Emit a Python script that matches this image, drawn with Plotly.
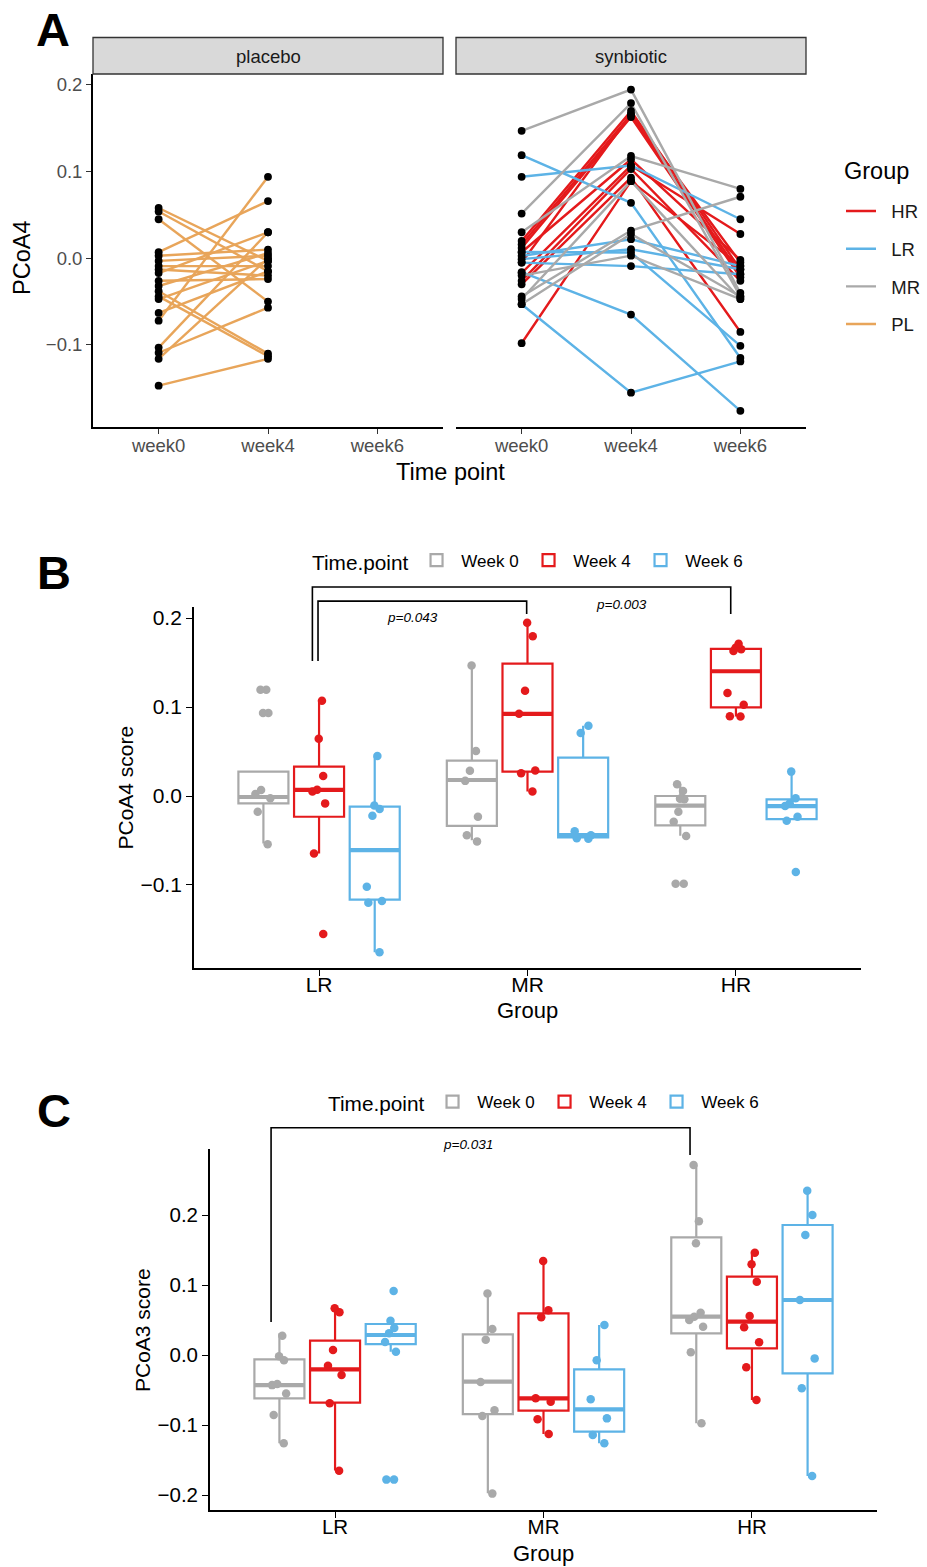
import plotly.graph_objects as go

W, H = 927, 1567
FONT = "Liberation Sans, Arial, Helvetica, sans-serif"

# ---------------- Panel A data (PCoA4 per subject) ----------------
WEEKS = ["week0", "week4", "week6"]
PL_W0 = [0.058, 0.054, 0.045, 0.007, 0.003, -0.003, -0.009, -0.013, -0.017, -0.026,
         -0.032, -0.038, -0.044, -0.047, -0.063, -0.072, -0.103, -0.109, -0.116, -0.147]
PL_W4 = [-0.003, -0.015, -0.050, 0.066, 0.010, 0.003, -0.009, -0.020, 0.030, -0.024,
         0.006, -0.110, -0.113, -0.003, -0.015, 0.094, 0.030, -0.057, 0.000, -0.116]

SYN_HR_W0 = [0.020, 0.016, 0.012, -0.005, -0.017, -0.026, -0.030, -0.098, 0.007]
SYN_HR_W4 = [0.170, 0.166, 0.163, 0.166, 0.107, 0.103, 0.093, 0.089, 0.114]
SYN_HR_W6 = [-0.013, -0.018, -0.022, -0.005, 0.028, -0.026, -0.085, -0.009, -0.002]

SYN_LR_W0 = [0.119, 0.094, 0.0027, -0.001, -0.005, -0.016, -0.053, 0.0073]
SYN_LR_W4 = [0.064, 0.107, 0.022, 0.0104, -0.009, -0.065, -0.155, 0.0066]
SYN_LR_W6 = [-0.115, 0.045, -0.009, -0.0127, -0.0185, -0.176, -0.119, -0.101]

SYN_MR_W0 = [0.147, 0.0516, 0.030, -0.044, -0.047, -0.053, -0.020]
SYN_MR_W4 = [0.1946, 0.179, 0.118, 0.032, 0.089, 0.028, 0.003]
SYN_MR_W6 = [-0.040, -0.044, 0.080, 0.071, -0.047, -0.044, -0.047]

# ---------------- Panels B / C data ----------------
GROUPS = ["LR", "MR", "HR"]
TIMEPOINTS = ["Week 0", "Week 4", "Week 6"]
# box stats: [lower whisker, q1, median, q3, upper whisker]
B_LR_W0 = [0.1195, 0.1195, 0.0932, 0.0932, 0.0068, 0.0023, -0.0026, -0.0177, -0.0541]
B_LR_W0_BOX = [-0.0533, -0.0083, -0.0011, 0.0274, 0.0274]
B_LR_W4 = [0.107, 0.0643, 0.0225, 0.007, 0.005, -0.0083, -0.0646, -0.155]
B_LR_W4_BOX = [-0.0646, -0.0233, 0.0068, 0.033, 0.107]
B_LR_W6 = [0.045, -0.0107, -0.0145, -0.0222, -0.102, -0.118, -0.12, -0.1755]
B_LR_W6_BOX = [-0.1755, -0.1165, -0.0609, -0.012, 0.045]
B_MR_W0 = [0.1466, 0.0506, 0.0284, 0.017, -0.0233, -0.044, -0.051]
B_MR_W0_BOX = [-0.0496, -0.0335, 0.018, 0.0398, 0.1466]
B_MR_W4 = [0.1947, 0.1796, 0.1183, 0.0924, 0.0286, 0.0256, 0.005]
B_MR_W4_BOX = [0.005, 0.0274, 0.0924, 0.1488, 0.1947]
B_MR_W6 = [0.079, 0.0707, -0.0395, -0.044, -0.0474, -0.048]
B_MR_W6_BOX = [-0.0466, -0.0466, -0.044, 0.0432, 0.079]
B_HR_W0 = [0.0133, 0.0056, -0.003, -0.0037, -0.0177, -0.029, -0.045, -0.0985, -0.0985]
B_HR_W0_BOX = [-0.0448, -0.033, -0.0109, 0.0, 0.0133]
B_HR_W4 = [0.171, 0.1665, 0.165, 0.163, 0.1157, 0.1026, 0.0897, 0.0893]
B_HR_W4_BOX = [0.0894, 0.0996, 0.1402, 0.1654, 0.1654]
B_HR_W6 = [0.0274, -0.0026, -0.0083, -0.0113, -0.0233, -0.0278, -0.0853]
B_HR_W6_BOX = [-0.026, -0.026, -0.0113, -0.0038, 0.0274]

C_LR_W0 = [0.0276, -0.0019, -0.0076, -0.0414, -0.043, -0.055, -0.0857, -0.126]
C_LR_W0_BOX = [-0.1262, -0.0619, -0.0429, -0.0062, 0.031]
C_LR_W4 = [0.0669, 0.061, 0.0071, -0.0152, -0.0286, -0.069, -0.1652]
C_LR_W4_BOX = [-0.165, -0.068, -0.0205, 0.0205, 0.0619]
C_LR_W6 = [0.0914, 0.049, 0.0386, 0.031, 0.0186, 0.0048, -0.178, -0.178]
C_LR_W6_BOX = [0.0048, 0.0157, 0.0286, 0.0443, 0.0443]
C_MR_W0 = [0.088, 0.0371, 0.0219, -0.0386, -0.079, -0.087, -0.198]
C_MR_W0_BOX = [-0.1976, -0.0843, -0.038, 0.0295, 0.0881]
C_MR_W4 = [0.1343, 0.064, 0.0538, -0.0619, -0.0667, -0.0919, -0.1129]
C_MR_W4_BOX = [-0.1129, -0.0795, -0.0619, 0.0595, 0.1343]
C_MR_W6 = [0.0429, -0.0076, -0.0633, -0.0905, -0.1143, -0.1262]
C_MR_W6_BOX = [-0.1262, -0.1095, -0.0776, -0.0205, 0.0429]
C_HR_W0 = [0.2714, 0.191, 0.1595, 0.0605, 0.0548, 0.05, 0.0405, 0.0038, -0.0976]
C_HR_W0_BOX = [-0.0976, 0.031, 0.0548, 0.1681, 0.2714]
C_HR_W4 = [0.146, 0.1295, 0.1048, 0.0557, 0.0395, 0.0181, -0.0176, -0.0643]
C_HR_W4_BOX = [-0.0643, 0.0095, 0.0476, 0.1119, 0.1476]
C_HR_W6 = [0.2348, 0.2, 0.1714, 0.0786, -0.0048, -0.0476, -0.1729]
C_HR_W6_BOX = [-0.1729, -0.0262, 0.0786, 0.1857, 0.2348]

# significance brackets (data coords) and labels
B_BRACKETS = [
    ([(-0.032, 0.1517), (-0.032, 0.2348), (1.975, 0.2348), (1.975, 0.2045)], "p=0.003", (1.451, 0.2157)),
    ([(-0.005, 0.1517), (-0.005, 0.219), (0.996, 0.219), (0.996, 0.2045)], "p=0.043", (0.45, 0.201)),
]
C_BRACKETS = [
    ([(-0.307, 0.047), (-0.307, 0.3247), (1.703, 0.3247), (1.703, 0.2857)], "p=0.031", (0.638, 0.3014)),
]

# ---------------- styling ----------------
GROUP_COLORS = {"HR": "#E41A1C", "LR": "#5DB3E6", "MR": "#A9A9A9", "PL": "#E8A55A"}
TP_COLORS = {"Week 0": "#A9A9A9", "Week 4": "#E41A1C", "Week 6": "#5DB3E6"}
DODGE = {"Week 0": -0.267, "Week 4": 0.0, "Week 6": 0.267}
BOXW = 0.24

# panel geometry in pixels
P_A1 = dict(x=(93, 443), y=(74, 427.3), xr=(-0.6, 2.6), yr=(-0.195, 0.2126))
P_A2 = dict(x=(456, 806), y=(74, 427.3), xr=(-0.6, 2.6), yr=(-0.195, 0.2126))
P_B = dict(x=(194, 861), y=(607, 968), xr=(-0.6, 2.6), yr=(-0.1933, 0.2124))
P_C = dict(x=(210, 877), y=(1149, 1510), xr=(-0.6, 2.6), yr=(-0.2214, 0.2943))


def xd(p):
    return [p["x"][0] / W, p["x"][1] / W]


def yd(p):
    return [1 - p["y"][1] / H, 1 - p["y"][0] / H]


def to_paper(p, xv, yv):
    px = p["x"][0] + (xv - p["xr"][0]) / (p["xr"][1] - p["xr"][0]) * (p["x"][1] - p["x"][0])
    py = p["y"][1] - (yv - p["yr"][0]) / (p["yr"][1] - p["yr"][0]) * (p["y"][1] - p["y"][0])
    return px / W, 1 - py / H


fig = go.Figure()

# ---------------- Panel A ----------------
def subject_lines(series_by_week):
    xs, ys = [], []
    n = len(series_by_week[0])
    for i in range(n):
        for wi, s in enumerate(series_by_week):
            xs.append(wi)
            ys.append(s[i])
        xs.append(None)
        ys.append(None)
    return xs, ys


syn = {
    "HR": [SYN_HR_W0, SYN_HR_W4, SYN_HR_W6],
    "LR": [SYN_LR_W0, SYN_LR_W4, SYN_LR_W6],
    "MR": [SYN_MR_W0, SYN_MR_W4, SYN_MR_W6],
}
for g in ["HR", "LR", "MR"]:
    xs, ys = subject_lines(syn[g])
    fig.add_trace(go.Scatter(x=xs, y=ys, mode="lines", xaxis="x2", yaxis="y2",
                             line=dict(color=GROUP_COLORS[g], width=2.4),
                             name="\u00a0\u00a0" + g, legend="legend", legendgroup=g,
                             showlegend=True, hoverinfo="skip"))
xs, ys = subject_lines([PL_W0, PL_W4])
fig.add_trace(go.Scatter(x=xs, y=ys, mode="lines", xaxis="x", yaxis="y",
                         line=dict(color=GROUP_COLORS["PL"], width=2.4),
                         name="\u00a0\u00a0PL", legend="legend", legendgroup="PL",
                         showlegend=True, hoverinfo="skip"))

# points
pl_x = [0] * len(PL_W0) + [1] * len(PL_W4)
fig.add_trace(go.Scatter(x=pl_x, y=PL_W0 + PL_W4, mode="markers", xaxis="x", yaxis="y",
                         marker=dict(color="black", size=7.8), showlegend=False))
sx, sy = [], []
for g in ["HR", "LR", "MR"]:
    for wi, s in enumerate(syn[g]):
        sx += [wi] * len(s)
        sy += s
fig.add_trace(go.Scatter(x=sx, y=sy, mode="markers", xaxis="x2", yaxis="y2",
                         marker=dict(color="black", size=7.8), showlegend=False))

# ---------------- Panels B and C ----------------
B_DATA = {
    ("LR", "Week 0"): (B_LR_W0, B_LR_W0_BOX), ("LR", "Week 4"): (B_LR_W4, B_LR_W4_BOX),
    ("LR", "Week 6"): (B_LR_W6, B_LR_W6_BOX), ("MR", "Week 0"): (B_MR_W0, B_MR_W0_BOX),
    ("MR", "Week 4"): (B_MR_W4, B_MR_W4_BOX), ("MR", "Week 6"): (B_MR_W6, B_MR_W6_BOX),
    ("HR", "Week 0"): (B_HR_W0, B_HR_W0_BOX), ("HR", "Week 4"): (B_HR_W4, B_HR_W4_BOX),
    ("HR", "Week 6"): (B_HR_W6, B_HR_W6_BOX),
}
C_DATA = {
    ("LR", "Week 0"): (C_LR_W0, C_LR_W0_BOX), ("LR", "Week 4"): (C_LR_W4, C_LR_W4_BOX),
    ("LR", "Week 6"): (C_LR_W6, C_LR_W6_BOX), ("MR", "Week 0"): (C_MR_W0, C_MR_W0_BOX),
    ("MR", "Week 4"): (C_MR_W4, C_MR_W4_BOX), ("MR", "Week 6"): (C_MR_W6, C_MR_W6_BOX),
    ("HR", "Week 0"): (C_HR_W0, C_HR_W0_BOX), ("HR", "Week 4"): (C_HR_W4, C_HR_W4_BOX),
    ("HR", "Week 6"): (C_HR_W6, C_HR_W6_BOX),
}


def add_box_panel(data, xa, ya, legend_name):
    # boxes
    for tp in TIMEPOINTS:
        col = TP_COLORS[tp]
        pos = [gi + DODGE[tp] for gi in range(len(GROUPS))]
        stats = [data[(g, tp)][1] for g in GROUPS]
        fig.add_trace(go.Box(
            x=pos, lowerfence=[s[0] for s in stats], q1=[s[1] for s in stats],
            median=[s[2] for s in stats], q3=[s[3] for s in stats],
            upperfence=[s[4] for s in stats], width=BOXW, whiskerwidth=0,
            boxpoints=False, line=dict(color=col, width=2.2), fillcolor="rgba(0,0,0,0)",
            xaxis=xa, yaxis=ya, name="\u00a0" + tp, legend=legend_name, showlegend=True,
            hoverinfo="skip"))
        # thicker median
        mx, my = [], []
        for p, s in zip(pos, stats):
            mx += [p - BOXW / 2, p + BOXW / 2, None]
            my += [s[2], s[2], None]
        fig.add_trace(go.Scatter(x=mx, y=my, mode="lines", xaxis=xa, yaxis=ya,
                                 line=dict(color=col, width=4.2), showlegend=False,
                                 hoverinfo="skip"))
    # jittered points
    for tp in TIMEPOINTS:
        col = TP_COLORS[tp]
        for gi, g in enumerate(GROUPS):
            pts = data[(g, tp)][0]
            fig.add_trace(go.Box(
                y=pts, x0=gi + DODGE[tp], width=BOXW, boxpoints="all", jitter=0.4,
                pointpos=0, line=dict(width=0, color="rgba(0,0,0,0)"),
                fillcolor="rgba(0,0,0,0)", marker=dict(color=col, size=8.5),
                xaxis=xa, yaxis=ya, showlegend=False, hoverinfo="y"))


add_box_panel(B_DATA, "x3", "y3", "legend2")
add_box_panel(C_DATA, "x4", "y4", "legend3")

# ---------------- axes ----------------
def axis_common(color_tick, tickfont_size, tickfont_color, ticklen, standoff=0):
    return dict(showline=True, linecolor="black", linewidth=1.8, ticks="outside",
                ticklen=ticklen, tickwidth=1.4, tickcolor=color_tick, showgrid=False,
                zeroline=False, tickfont=dict(size=tickfont_size, color=tickfont_color,
                                              family=FONT), fixedrange=True,
                ticklabelstandoff=standoff)


a_ticks_y = [-0.1, 0.0, 0.1, 0.2]
a_ticktext_y = ["\u22120.1", "0.0", "0.1", "0.2"]

layout_axes = dict(
    xaxis=dict(domain=xd(P_A1), anchor="y", range=list(P_A1["xr"]), tickmode="array",
               tickvals=[0, 1, 2], ticktext=WEEKS,
               **axis_common("#333333", 18.5, "#4D4D4D", 5, -4)),
    yaxis=dict(domain=yd(P_A1), anchor="x", range=list(P_A1["yr"]), tickmode="array",
               tickvals=a_ticks_y, ticktext=a_ticktext_y,
               **axis_common("#333333", 18.5, "#4D4D4D", 5)),
    xaxis2=dict(domain=xd(P_A2), anchor="y2", range=list(P_A2["xr"]), tickmode="array",
                tickvals=[0, 1, 2], ticktext=WEEKS,
                **axis_common("#333333", 18.5, "#4D4D4D", 5, -4)),
    yaxis2=dict(domain=yd(P_A2), anchor="x2", range=list(P_A2["yr"]), visible=False,
                fixedrange=True),
    xaxis3=dict(domain=xd(P_B), anchor="y3", range=list(P_B["xr"]), tickmode="array",
                tickvals=[0, 1, 2], ticktext=GROUPS,
                **axis_common("black", 21, "black", 6, -9)),
    yaxis3=dict(domain=yd(P_B), anchor="x3", range=list(P_B["yr"]), tickmode="array",
                tickvals=[-0.1, 0.0, 0.1, 0.2], ticktext=["\u22120.1", "0.0", "0.1", "0.2"],
                **axis_common("black", 21, "black", 6)),
    xaxis4=dict(domain=xd(P_C), anchor="y4", range=list(P_C["xr"]), tickmode="array",
                tickvals=[0, 1, 2], ticktext=GROUPS,
                **axis_common("black", 20.5, "black", 6, -9)),
    yaxis4=dict(domain=yd(P_C), anchor="x4", range=list(P_C["yr"]), tickmode="array",
                tickvals=[-0.2, -0.1, 0.0, 0.1, 0.2],
                ticktext=["\u22120.2", "\u22120.1", "0.0", "0.1", "0.2"],
                **axis_common("black", 20.5, "black", 6)),
)

# ---------------- shapes & annotations ----------------
shapes = []
annotations = []


def ann(text, px, py, size, color="black", bold=False, angle=0, xanchor="center"):
    t = "<b>" + text + "</b>" if bold else text
    annotations.append(dict(text=t, x=px / W, y=1 - py / H, xref="paper", yref="paper",
                            showarrow=False, xanchor=xanchor, yanchor="middle",
                            textangle=angle, font=dict(size=size, color=color, family=FONT)))


# facet strips
for p, label in [(P_A1, "placebo"), (P_A2, "synbiotic")]:
    shapes.append(dict(type="rect", xref="paper", yref="paper", x0=p["x"][0] / W,
                       x1=p["x"][1] / W, y0=1 - 74 / H, y1=1 - 37.5 / H,
                       fillcolor="#D9D9D9", line=dict(color="#333333", width=1.3)))
    ann(label, (p["x"][0] + p["x"][1]) / 2, 56, 18.5, "#1A1A1A")

# brackets
for p, brs in [(P_B, B_BRACKETS), (P_C, C_BRACKETS)]:
    for pts, lab, lpos in brs:
        path = ""
        for i, (xv, yv) in enumerate(pts):
            xp, yp = to_paper(p, xv, yv)
            path += ("M" if i == 0 else "L") + f"{xp:.5f},{yp:.5f}"
        shapes.append(dict(type="path", xref="paper", yref="paper", path=path,
                           line=dict(color="black", width=1.6)))
        lx, ly = to_paper(p, *lpos)
        annotations.append(dict(text="<i>" + lab + "</i>", x=lx, y=ly, xref="paper",
                                yref="paper", showarrow=False, xanchor="center",
                                yanchor="middle", font=dict(size=13.5, color="black", family=FONT)))

# panel letters
ann("A", 53, 30, 47, bold=True)
ann("B", 54, 572, 47, bold=True)
ann("C", 54, 1110, 47, bold=True)

# axis titles
ann("PCoA4", 22, 258, 23.5, angle=-90)
ann("Time point", 450, 472, 23.5)
ann("PCoA4 score", 125, 787.5, 21, angle=-90)
ann("Group", 527, 1011, 22)
ann("PCoA3 score", 142, 1330, 21, angle=-90)
ann("Group", 543, 1553, 22)
# legend title for panel A
ann("Group", 842, 171, 23.5, xanchor="left")

fig.update_layout(
    width=W, height=H, margin=dict(l=0, r=0, t=0, b=0),
    paper_bgcolor="white", plot_bgcolor="white",
    font=dict(family=FONT, color="black"),
    boxmode="overlay", showlegend=True,
    shapes=shapes, annotations=annotations,
    legend=dict(x=841 / W, y=1 - 192.5 / H, xanchor="left", yanchor="top",
                font=dict(size=18.5, color="#1A1A1A"), traceorder="grouped",
                tracegroupgap=10.6, bgcolor="rgba(0,0,0,0)"),
    legend2=dict(orientation="h", x=310 / W, y=1 - 561.5 / H, xanchor="left",
                 yanchor="middle", title=dict(text="Time.point", side="left",
                                              font=dict(size=20.8, color="black")),
                 font=dict(size=17, color="black"), entrywidth=67,
                 entrywidthmode="pixels", bgcolor="rgba(0,0,0,0)"),
    legend3=dict(orientation="h", x=326 / W, y=1 - 1103 / H, xanchor="left",
                 yanchor="middle", title=dict(text="Time.point", side="left",
                                              font=dict(size=20.8, color="black")),
                 font=dict(size=17, color="black"), entrywidth=67,
                 entrywidthmode="pixels", bgcolor="rgba(0,0,0,0)"),
    **layout_axes,
)

fig.write_html("out.html", config={"displayModeBar": False},
               post_script="document.body.style.margin='0px';document.body.style.overflow='hidden';")
